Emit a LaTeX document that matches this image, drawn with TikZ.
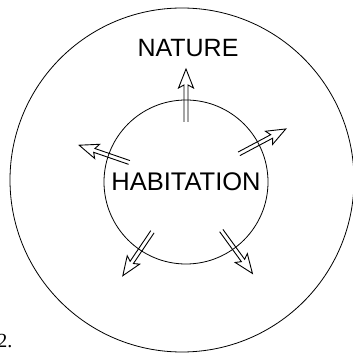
\documentclass[tikz,border=0pt]{standalone}
\usepackage{fontspec}
\setmainfont{Liberation Sans}
\newfontfamily\numfont{Liberation Serif}
\usetikzlibrary{calc}

\begin{document}
\begin{tikzpicture}[x=1pt,y=1pt,line width=0.8pt,
    ring/.style={draw,circle,inner sep=0pt},
    outarrow/.style={line join=miter,line width=0.9pt}]
                \useasboundingbox (0,0) rectangle (353,356);
                \node[ring,minimum size=344pt] (world) at (182,176) {};
                \node[ring,minimum size=164pt,font=\fontsize{25.5}{25}\selectfont] (hab) at (186,174) {HABITATION};
                \node[font=\fontsize{25}{25}\selectfont] (nat) at (188,308) {NATURE};
                \node[anchor=base west,inner sep=0pt,font=\numfont\fontsize{20}{20}\selectfont] (num) at (-3,9) {2.};
                \foreach \a in {90,28,161,236,306}{
                    \draw[outarrow,shift={(hab.center)},rotate=\a]
                        (60,2)--(97,2)--(94,7.5)--(113,0)--(94,-7.5)--(97,-2)--(60,-2);
                }
            \end{tikzpicture}
\end{document}
